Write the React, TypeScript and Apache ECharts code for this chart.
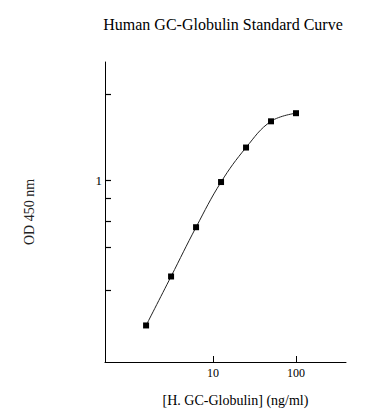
import React, { useEffect, useRef } from "react";
import * as echarts from "echarts";

const titleText = "Human GC-Globulin Standard Curve";
const xAxisName = "[H. GC-Globulin] (ng/ml)";
const yAxisName = "OD 450 nm";

const concentrations = [1.5625, 3.125, 6.25, 12.5, 25, 50, 100];
const odValues = [0.159, 0.296, 0.553, 0.981, 1.52, 2.12, 2.35];

const xTickValues = [10, 100];
const xLabelValues = [10, 100];
const yTickValues = [3, 1, 0.8, 0.6, 0.43, 0.25];
const yLabelValues = [1];

const FONT = "'Liberation Serif', 'Times New Roman', serif";

export default function App() {
  const ref = useRef<HTMLDivElement>(null);

  useEffect(() => {
    if (!ref.current) return;
    const chart = echarts.init(ref.current, null, { renderer: "svg" });
    const data = concentrations.map((c, i) => [c, odValues[i]]);
    chart.setOption({
      animation: false,
      backgroundColor: "#ffffff",
      textStyle: { fontFamily: FONT },
      graphic: [
        {
          type: "text",
          x: 223,
          y: 24,
          style: {
            text: titleText,
            fontFamily: FONT,
            fontSize: 16,
            fill: "#000",
            textAlign: "center",
            textVerticalAlign: "middle",
          },
        },
      ],
      grid: { left: 105, top: 62, width: 241, height: 300, containLabel: false },
      xAxis: {
        type: "log",
        min: 0.5,
        max: 400,
        name: xAxisName,
        nameLocation: "middle",
        nameGap: 31,
        nameTextStyle: {
          fontFamily: FONT,
          fontSize: 14,
          color: "#000",
          padding: [0, 0, 0, 20],
        },
        axisLine: { show: true, lineStyle: { color: "#000", width: 1 } },
        axisTick: {
          show: true,
          inside: true,
          length: 6,
          customValues: xTickValues,
          lineStyle: { color: "#000" },
        },
        axisLabel: {
          show: true,
          customValues: xLabelValues,
          margin: 5,
          fontFamily: FONT,
          fontSize: 12,
          color: "#000",
        },
        splitLine: { show: false },
        minorTick: { show: false },
      },
      yAxis: {
        type: "log",
        min: 0.1,
        max: 4.5,
        name: yAxisName,
        nameLocation: "middle",
        nameGap: 69,
        nameTextStyle: { fontFamily: FONT, fontSize: 14, color: "#222" },
        axisLine: { show: true, lineStyle: { color: "#000", width: 1 } },
        axisTick: {
          show: true,
          inside: true,
          length: 6,
          customValues: yTickValues,
          lineStyle: { color: "#000", width: 1.2 },
        },
        axisLabel: {
          show: true,
          customValues: yLabelValues,
          margin: 3,
          fontFamily: FONT,
          fontSize: 13,
          color: "#000",
        },
        splitLine: { show: false },
        minorTick: { show: false },
      },
      series: [
        {
          type: "line",
          data,
          smooth: 0.4,
          symbol: "rect",
          symbolSize: 6,
          itemStyle: { color: "#000" },
          lineStyle: { color: "#222", width: 1 },
        },
      ],
    });
    return () => chart.dispose();
  }, []);

  return (
    <div
      ref={ref}
      style={{ position: "fixed", left: 0, top: 0, width: 388, height: 420 }}
    />
  );
}
